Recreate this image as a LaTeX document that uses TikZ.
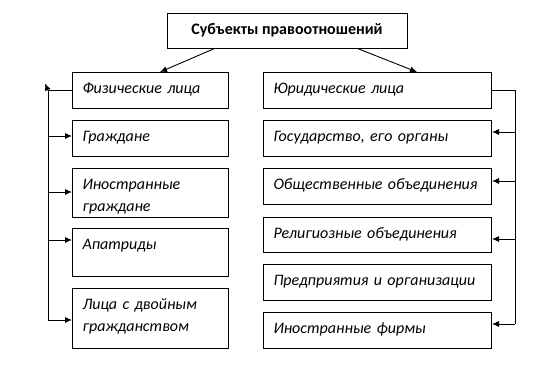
\documentclass[tikz,border=0pt]{standalone}
\usepackage{fontspec}
\setmainfont{Carlito}
\usetikzlibrary{arrows.meta}

\begin{document}
\begin{tikzpicture}[x=1pt,y=-1pt,font=\fontsize{16}{22}\selectfont\itshape]
  \tikzset{lbox/.style={draw,line width=1pt,anchor=north west,inner xsep=10pt,inner ysep=0pt,text width=136pt,align=left,text height=20.5pt,text depth=#1pt},
    rbox/.style={lbox=#1,text width=208pt},
    arr/.style={-{Latex[length=7pt,width=6pt]},line width=0.9pt}}
  \useasboundingbox (0,0) rectangle (538,370);
  \node[draw,line width=1pt,minimum width=240pt,minimum height=35pt,inner sep=0pt,font=\fontsize{16}{22}\selectfont\bfseries] (top) at (287,30.5) {Субъекты правоотношений};
  % left column
  \node[lbox=15.5] (fiz) at (72,72) {Физические лица};
  \node[lbox=15] (grazh) at (72,120) {Граждане};
  \node[lbox=28.5] (inostr) at (72,168) {Иностранные граждане};
  \node[lbox=27.5] (apatr) at (72,228) {Апатриды};
  \node[lbox=39.5] (dvoin) at (72,288) {Лица с двойным гражданством};
  % right column
  \node[rbox=15.5] (yur) at (263,72) {Юридические лица};
  \node[rbox=15.5] (gos) at (263,120) {Государство, его органы};
  \node[rbox=15.5] (obsh) at (263,168) {Общественные объединения};
  \node[rbox=14.5] (relig) at (263,217) {Религиозные объединения};
  \node[rbox=15.5] (pred) at (263,264) {Предприятия и организации};
  \node[rbox=15.5] (firm) at (263,312) {Иностранные фирмы};
  \draw[arr] ([xshift=48pt]top.south west) -- ([xshift=88pt]fiz.north west);
  \draw[arr] ([xshift=191pt]top.south west) -- ([xshift=154pt]yur.north west);
  % branches
  \foreach \b/\dy in {grazh/16,inostr/24,apatr/12,dvoin/32}
    \coordinate (\b a) at ([yshift=-\dy pt]\b.north west);
  \foreach \b/\dy in {gos/12,obsh/13,relig/22,firm/12}
    \coordinate (\b a) at ([yshift=-\dy pt]\b.north east);
  \draw[line width=0.9pt] (fiz.west) -- ++(-24,0) coordinate (lc) -- (dvoina -| lc);
  \draw[arr] (lc) -- ++(-3,-7);
  \foreach \b in {grazh,inostr,apatr,dvoin}
    \draw[arr] (\b a -| lc) -- (\b a);
  \draw[line width=0.9pt] (yur.east) -- ++(23,0) coordinate (rc) -- (firma -| rc);
  \foreach \b in {gos,obsh,relig,firm}
    \draw[arr] (\b a -| rc) -- (\b a);
\end{tikzpicture}
\end{document}
